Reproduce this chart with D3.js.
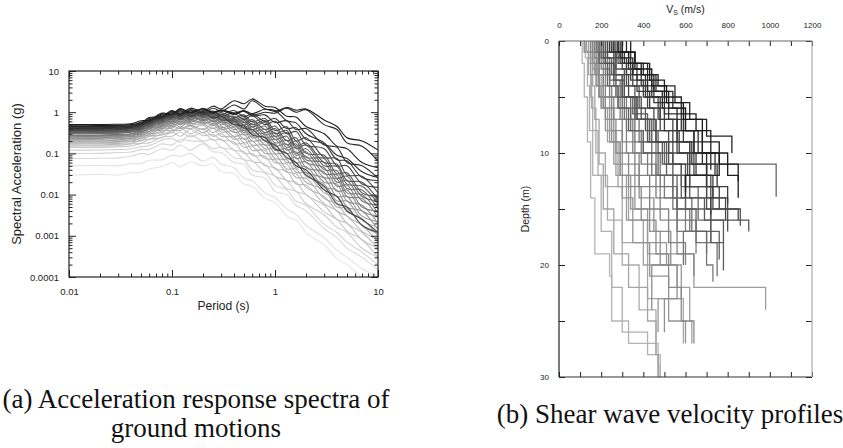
<!DOCTYPE html>
<html>
<head>
<meta charset="utf-8">
<script src="https://cdn.jsdelivr.net/npm/d3@7"></script>
<style>
    body { margin: 0; background: #fff; }
    svg text { font-family: "Liberation Sans", Arial, sans-serif; fill: #222; }
    svg text.caption { font-family: "Liberation Serif", "Times New Roman", serif; fill: #111; }
</style>
</head>
<body>
<div id="chart"></div>
<script>
// periods (s) at which every spectrum is read
const periods = [0.01, 0.02, 0.03, 0.04, 0.05, 0.06, 0.08, 0.1, 0.12, 0.15, 0.2, 0.25, 0.3, 0.4, 0.5, 0.6, 0.8, 1, 1.3, 1.6, 2, 3, 4, 5, 7, 10];

// spectral acceleration (g), light -> dark
const spectra = [
    [.030,.031,.030,.034,.035,.042,.048,.06,.047,.062,.05,.055,.036,.032,.018,.016,.008,.0065,.003,.0024,.0012,.0006,.00028,.0002,.0001,.00007],
    [.05,.051,.05,.056,.057,.068,.07,.09,.085,.1,.065,.08,.055,.045,.025,.022,.011,.0085,.0045,.0033,.0018,.0009,.00045,.0003,.00016,.0001],
    [.075,.076,.078,.085,.1,.095,.13,.12,.16,.12,.17,.11,.105,.06,.055,.03,.025,.012,.01,.0055,.004,.0015,.0009,.0005,.0003,.00015],
    [.1,.1,.105,.108,.125,.125,.17,.16,.22,.2,.19,.13,.14,.08,.07,.04,.033,.017,.013,.007,.0055,.0019,.0012,.0007,.0004,.0002],
    [.12,.121,.124,.13,.145,.155,.21,.23,.19,.28,.2,.22,.14,.12,.07,.065,.035,.028,.014,.012,.006,.0032,.0016,.0012,.0005,.0003],
    [.14,.14,.145,.15,.175,.18,.25,.26,.33,.25,.32,.21,.22,.12,.11,.065,.055,.028,.022,.012,.01,.0038,.0025,.0013,.0008,.0003],
    [.15,.152,.155,.17,.175,.22,.24,.33,.26,.38,.27,.29,.21,.19,.1,.1,.05,.045,.022,.02,.01,.0055,.0025,.002,.0008,.0005],
    [.16,.16,.168,.175,.21,.22,.3,.32,.42,.3,.4,.26,.3,.17,.17,.09,.085,.042,.038,.018,.017,.006,.004,.002,.0012,.0005],
    [.17,.172,.175,.195,.2,.26,.28,.36,.36,.46,.32,.42,.26,.25,.14,.15,.075,.07,.035,.032,.015,.009,.004,.003,.0013,.0008],
    [.18,.18,.188,.195,.23,.26,.35,.37,.42,.4,.48,.32,.4,.22,.23,.12,.12,.06,.055,.026,.025,.008,.006,.003,.0018,.0007],
    [.19,.192,.195,.215,.23,.3,.32,.46,.4,.48,.38,.5,.33,.35,.18,.2,.1,.095,.042,.042,.02,.013,.005,.0046,.0018,.0011],
    [.2,.2,.21,.215,.26,.28,.41,.41,.56,.48,.52,.4,.46,.26,.29,.16,.16,.075,.07,.035,.034,.011,.009,.004,.0026,.001],
    [.21,.212,.215,.235,.25,.34,.37,.55,.44,.62,.52,.58,.38,.42,.22,.26,.13,.13,.06,.06,.028,.018,.007,.007,.0024,.0016],
    [.22,.22,.23,.235,.29,.31,.46,.44,.6,.52,.6,.48,.56,.32,.36,.2,.21,.1,.1,.045,.048,.015,.013,.005,.004,.0014],
    [.23,.232,.236,.26,.27,.38,.4,.6,.52,.66,.55,.62,.42,.5,.28,.32,.16,.17,.075,.08,.035,.025,.009,.009,.003,.0022],
    [.24,.24,.25,.255,.32,.34,.5,.48,.68,.6,.7,.52,.6,.38,.42,.24,.26,.12,.13,.06,.062,.02,.018,.007,.0055,.002],
    [.25,.252,.256,.28,.3,.42,.44,.66,.5,.72,.62,.68,.5,.56,.32,.38,.2,.22,.1,.11,.045,.035,.012,.013,.004,.003],
    [.26,.26,.27,.275,.34,.38,.56,.52,.74,.56,.78,.6,.66,.44,.5,.3,.3,.15,.17,.075,.085,.026,.024,.009,.008,.0028],
    [.27,.272,.277,.3,.32,.45,.48,.72,.58,.8,.62,.76,.56,.6,.36,.44,.24,.26,.12,.14,.06,.045,.016,.017,.005,.004],
    [.28,.28,.29,.295,.37,.4,.6,.58,.8,.64,.84,.6,.74,.5,.58,.34,.38,.18,.21,.09,.11,.032,.03,.011,.01,.0035],
    [.3,.302,.307,.33,.35,.5,.52,.78,.68,.86,.66,.82,.62,.68,.42,.52,.28,.32,.14,.17,.07,.06,.02,.022,.007,.0055],
    [.31,.31,.32,.325,.4,.43,.64,.6,.86,.66,.92,.7,.78,.56,.64,.38,.46,.22,.26,.1,.13,.04,.038,.014,.013,.0045],
    [.32,.322,.328,.35,.37,.54,.55,.82,.64,.9,.74,.88,.66,.7,.5,.6,.32,.4,.16,.2,.08,.075,.025,.028,.009,.007],
    [.33,.33,.34,.345,.43,.45,.7,.66,.9,.72,.98,.74,.86,.6,.7,.44,.56,.26,.32,.13,.16,.05,.048,.018,.016,.006],
    [.34,.342,.348,.37,.39,.57,.58,.88,.68,.98,.78,.94,.72,.8,.56,.66,.38,.46,.2,.24,.1,.09,.032,.034,.011,.009],
    [.35,.35,.36,.365,.46,.48,.74,.7,.96,.76,1.05,.78,.9,.66,.78,.5,.62,.3,.36,.15,.18,.06,.055,.022,.02,.0075],
    [.36,.362,.37,.39,.41,.6,.62,.94,.72,1.02,.8,.96,.66,.62,.4,.38,.2,.16,.08,.06,.03,.016,.006,.005,.0018,.0012],
    [.37,.37,.38,.39,.49,.5,.78,.74,1.0,.82,1.1,.85,.98,.74,.86,.58,.7,.36,.44,.2,.24,.08,.075,.03,.028,.011],
    [.38,.382,.39,.41,.44,.62,.66,.98,.78,1.08,.86,1.02,.8,.95,.66,.82,.5,.6,.3,.34,.16,.13,.05,.05,.018,.015],
    [.39,.39,.4,.41,.52,.54,.82,.78,1.06,.8,1.0,.72,.8,.5,.46,.28,.24,.13,.1,.05,.04,.013,.009,.004,.0025,.0012],
    [.4,.402,.41,.43,.47,.66,.7,1.02,.82,1.12,.9,1.06,.88,1.1,.78,.9,.6,.7,.4,.42,.22,.17,.07,.066,.026,.022],
    [.42,.42,.43,.44,.55,.58,.86,.84,1.1,.9,1.2,.92,1.1,.9,1.05,.8,.86,.56,.62,.38,.4,.16,.14,.06,.05,.025],
    [.43,.432,.44,.46,.5,.7,.74,1.06,.86,1.16,.95,1.25,1.05,1.5,1.2,1.9,1.2,1.1,.62,.55,.3,.18,.09,.075,.036,.026],
    [.45,.45,.46,.47,.58,.6,.9,.88,1.16,.95,1.25,1.0,1.1,.88,1.05,.85,1.0,.95,1.25,1.0,1.15,.5,.38,.18,.15,.065],
    [.47,.472,.48,.5,.54,.74,.78,1.1,.9,1.25,1.05,1.4,1.2,1.9,1.6,2.1,1.4,1.3,.8,.76,.45,.3,.15,.13,.06,.045],
    [.5,.5,.51,.52,.62,.64,.95,.9,1.22,1.0,1.2,.98,1.15,.95,1.1,.92,1.18,1.05,1.3,1.12,1.2,.65,.45,.24,.2,.12]
];

// Vs profiles: layer bottom depths (m) and layer Vs (m/s), light -> dark
const profileDepths = [
    [2,5,9,14,19,21,25,27,29,30],
    [1.5,4,8,12,17,22,26,28,30],
    [2,5,8,12,16,20,24,28,30],
    [1,3,6,10,13,18,23,27],
    [2,4,7,11,15,19,22,25,28,30],
    [1.5,3,6,9,13,16,20,22,25,27],
    [1,2.5,5,8,12,16,19,22,24],
    [2,4,6,9,12,15,18,20,23,26],
    [1,3,5,8,11,14,18,21,25,27],
    [1.5,3,6,9,12,15,17,20,23,26],
    [2,4,6,8,11,14,17,20,24],
    [1,3,5,7,10,13,16,19,22,25,27],
    [1,3,5,7,10,13,16,19,21],
    [2,4,6,9,12,15,18,20],
    [1,2.5,5,7,10,12,14,17,19],
    [1.5,3,5,8,11,14,17,20,21.5],
    [1,3,5,7,9,12,15,17,20],
    [2,4,6,8,10,13,16,18,21],
    [1,2,4,6,9,12,14,17,19],
    [1.5,3.5,5,7,9,11,13,16,18],
    [1,3,5,7,9,11,13.9],
    [2,4,6,8,10,12,15,17,19.5],
    [1,3,5,7,9,12,15,18,20.5],
    [1.5,3,5,6.5,9,11,14,16,18],
    [1,2.5,4,6,8,10,12,14,16,17],
    [2,3.5,5,7,9,11,13,15,16.5],
    [1,2,4,6,8,10,12,14,17],
    [1.5,3,5,7,9,11,13,15,16],
    [1,2.5,4,6,8,10,12,14,16],
    [1,2,3.5,5,7,9,11,13,15],
    [1.5,3,4.5,6,8,10,12,14,15.5],
    [1,2,3,5,7,9,11,13,14.5],
    [1,2.5,4,5.5,7,9,11,13],
    [1,2,3.5,5,6.5,8,10,12],
    [1,2,3,4.5,6,8,10,12,14],
    [1.5,3,4.5,6,8,10,11.5],
    [1,2,3,4,5.5,7,8.5,10],
    [1,2,3,4.5,6,8,10,12,13.5],
    [1,2,3.5,5,6.5,8,10,12,14],
    [1,2.5,4,5.5,7,9,11,12.5]
];

const profileVs = [
    [110,120,135,150,170,240,250,330,470,480],
    [125,135,145,160,200,250,300,420,480],
    [140,150,160,185,230,300,380,460,470],
    [120,140,155,175,220,300,420,590],
    [150,160,170,190,210,260,330,420,460,470],
    [140,180,200,230,280,330,400,560,620,630],
    [130,160,190,240,270,320,420,640,980],
    [150,175,200,240,290,340,420,510,580,470],
    [120,150,190,220,260,300,350,430,520,600],
    [170,190,210,250,290,360,430,480,560,500],
    [160,180,210,260,300,380,450,530,440],
    [150,170,190,220,270,330,390,460,520,580,640],
    [160,190,220,260,320,380,480,560,640],
    [180,210,250,300,360,430,520,600],
    [170,200,240,290,350,420,500,600,650],
    [190,220,270,320,390,460,560,700,730],
    [200,230,270,310,380,460,540,620,590],
    [210,240,280,340,400,480,560,650,750],
    [180,220,260,300,360,440,540,630,700],
    [200,240,290,340,420,500,580,660,720],
    [220,260,310,370,460,620,1030],
    [190,230,280,330,400,470,560,650,760],
    [230,260,300,360,430,510,600,720,780],
    [210,250,300,350,420,490,580,690,780],
    [240,270,310,360,410,470,540,620,720,900],
    [220,260,310,370,440,520,600,700,860],
    [250,280,320,380,450,520,610,700,800],
    [230,270,330,390,460,540,620,730,850],
    [260,300,350,420,480,560,640,720,790],
    [250,290,340,400,470,540,620,700,760],
    [270,320,370,430,500,570,650,730,720],
    [240,300,350,410,480,560,630,700,800],
    [280,330,390,450,520,590,680,750],
    [260,310,370,440,500,580,660,740],
    [300,340,400,460,540,600,640,700,600],
    [290,350,420,490,560,640,720],
    [320,360,420,470,550,620,700,820],
    [280,330,390,450,520,600,680,760,600],
    [340,360,430,500,580,650,720,800,850],
    [300,360,440,510,590,680,760,850]
];

const saTicks = [10, 1, 0.1, 0.01, 0.001, 0.0001];
const periodTicks = [0.01, 0.1, 1, 10];
const vsTicks = [0, 100, 200, 300, 400, 500, 600, 700, 800, 900, 1000, 1100, 1200];
const depthTicks = [0, 5, 10, 15, 20, 25, 30];

const svg = d3.select("#chart")
    .append("svg")
    .attr("width", 843)
    .attr("height", 448);

svg.append("rect").attr("width", 843).attr("height", 448).attr("fill", "#fff");

function styleAxis(g, col) {
    g.select(".domain").remove();
    g.selectAll(".tick line").attr("stroke", col || "#222").attr("stroke-width", 1);
}

/* ---------- (a) response spectra ---------- */
const xA = d3.scaleLog().domain([0.01, 10]).range([69, 378]);
const yA = d3.scaleLog().domain([0.0001, 10]).range([277, 71]);

svg.append("clipPath").attr("id", "clipA")
    .append("rect")
    .attr("x", xA(0.01)).attr("y", yA(10))
    .attr("width", xA(10) - xA(0.01)).attr("height", yA(0.0001) - yA(10));

const greyA = d3.scaleLinear().domain([0, spectra.length - 1]).range(["#e6e6e6", "#1c1c1c"]);

const lineA = d3.line()
    .x(function(d, i) { return xA(periods[i]); })
    .y(function(d) { return yA(d); })
    .curve(d3.curveCatmullRom);

svg.append("g")
    .attr("clip-path", "url(#clipA)")
    .selectAll("path")
    .data(spectra)
    .enter().append("path")
    .attr("d", lineA)
    .attr("fill", "none")
    .attr("stroke", function(d, i) { return greyA(i); })
    .attr("stroke-width", 1.1);

const minorX = xA.ticks().filter(function(d) { return periodTicks.indexOf(d) < 0; });
const minorY = yA.ticks().filter(function(d) { return saTicks.indexOf(d) < 0; });

svg.append("g").attr("transform", "translate(0," + yA(0.0001) + ")")
    .call(d3.axisBottom(xA).tickValues(periodTicks).tickSize(-7).tickPadding(11).tickFormat(String))
    .call(styleAxis);
svg.append("g").attr("transform", "translate(0," + yA(0.0001) + ")")
    .call(d3.axisBottom(xA).tickValues(minorX).tickSize(-3.5).tickFormat(""))
    .call(styleAxis);
svg.append("g").attr("transform", "translate(0," + yA(10) + ")")
    .call(d3.axisTop(xA).tickValues(periodTicks).tickSize(-7).tickFormat(""))
    .call(styleAxis);
svg.append("g").attr("transform", "translate(0," + yA(10) + ")")
    .call(d3.axisTop(xA).tickValues(minorX).tickSize(-3.5).tickFormat(""))
    .call(styleAxis);
svg.append("g").attr("transform", "translate(" + xA(0.01) + ",0)")
    .call(d3.axisLeft(yA).tickValues(saTicks).tickSize(-7).tickPadding(10).tickFormat(String))
    .call(styleAxis);
svg.append("g").attr("transform", "translate(" + xA(0.01) + ",0)")
    .call(d3.axisLeft(yA).tickValues(minorY).tickSize(-3.5).tickFormat(""))
    .call(styleAxis);
svg.append("g").attr("transform", "translate(" + xA(10) + ",0)")
    .call(d3.axisRight(yA).tickValues(saTicks).tickSize(-7).tickFormat(""))
    .call(styleAxis);
svg.append("g").attr("transform", "translate(" + xA(10) + ",0)")
    .call(d3.axisRight(yA).tickValues(minorY).tickSize(-3.5).tickFormat(""))
    .call(styleAxis);

svg.append("rect")
    .attr("x", xA(0.01)).attr("y", yA(10))
    .attr("width", xA(10) - xA(0.01)).attr("height", yA(0.0001) - yA(10))
    .attr("fill", "none").attr("stroke", "#222").attr("stroke-width", 1.2);

svg.selectAll("g.tick text").attr("font-size", "9.5px").attr("fill", "#222");

svg.append("text")
    .attr("transform", "translate(16," + (yA(10) + yA(0.0001)) / 2 + ") rotate(-90)")
    .attr("text-anchor", "middle").attr("dy", "0.35em")
    .attr("font-size", "13px")
    .text("Spectral Acceleration (g)");

svg.append("text")
    .attr("x", (xA(0.01) + xA(10)) / 2).attr("y", 306)
    .attr("text-anchor", "middle").attr("dy", "0.35em")
    .attr("font-size", "12px")
    .text("Period (s)");

/* ---------- (b) Vs profiles ---------- */
const xB = d3.scaleLinear().domain([0, 1200]).range([559, 812]);
const yB = d3.scaleLinear().domain([0, 30]).range([41, 377]);

const greyB = d3.scaleLinear().domain([0, profileVs.length - 1]).range(["#b4b4b4", "#1a1a1a"]);

const stepLine = d3.line()
    .x(function(d) { return xB(d[0]); })
    .y(function(d) { return yB(d[1]); });

// each layer gives a vertical segment, the joins between layers the horizontal steps
const profilePoints = profileVs.map(function(vs, k) {
    const pts = [];
    let top = 0;
    vs.forEach(function(v, j) {
        pts.push([v, top]);
        pts.push([v, profileDepths[k][j]]);
        top = profileDepths[k][j];
    });
    return pts;
});

svg.append("g")
    .selectAll("path")
    .data(profilePoints)
    .enter().append("path")
    .attr("d", stepLine)
    .attr("fill", "none")
    .attr("stroke", function(d, i) { return greyB(i); })
    .attr("stroke-width", 1.3);

const axTop = svg.append("g").attr("transform", "translate(0," + yB(0) + ")")
    .call(d3.axisTop(xB).tickValues(vsTicks).tickSize(-5).tickPadding(13)
        .tickFormat(function(d) { return d % 200 === 0 ? d : ""; }))
    .call(styleAxis);
svg.append("g").attr("transform", "translate(0," + yB(30) + ")")
    .call(d3.axisBottom(xB).tickValues(vsTicks).tickSize(-5).tickFormat(""))
    .call(styleAxis);
const axLeft = svg.append("g").attr("transform", "translate(" + xB(0) + ",0)")
    .call(d3.axisLeft(yB).tickValues(depthTicks).tickSize(-6).tickPadding(10)
        .tickFormat(function(d) { return d % 10 === 0 ? d : ""; }))
    .call(styleAxis);
svg.append("g").attr("transform", "translate(" + xB(1200) + ",0)")
    .call(d3.axisRight(yB).tickValues(depthTicks).tickSize(-6).tickFormat(""))
    .call(styleAxis);

axTop.selectAll("text").attr("font-size", "8px");
axLeft.selectAll("text").attr("font-size", "8px");

// frame: left / bottom dark, top grey, right light grey
svg.append("line").attr("x1", xB(0)).attr("x2", xB(0)).attr("y1", yB(0)).attr("y2", yB(30))
    .attr("stroke", "#222").attr("stroke-width", 1.2);
svg.append("line").attr("x1", xB(0)).attr("x2", xB(1200)).attr("y1", yB(30)).attr("y2", yB(30))
    .attr("stroke", "#333").attr("stroke-width", 1.2);
svg.append("line").attr("x1", xB(0)).attr("x2", xB(1200)).attr("y1", yB(0)).attr("y2", yB(0))
    .attr("stroke", "#666").attr("stroke-width", 1.2);
svg.append("line").attr("x1", xB(1200)).attr("x2", xB(1200)).attr("y1", yB(0)).attr("y2", yB(30))
    .attr("stroke", "#aaa").attr("stroke-width", 1.2);

const vsTitle = svg.append("text")
    .attr("x", (xB(0) + xB(1200)) / 2).attr("y", 13)
    .attr("text-anchor", "middle")
    .attr("font-size", "10.5px");
vsTitle.append("tspan").text("V");
vsTitle.append("tspan").attr("font-size", "7px").attr("dy", "2").text("S");
vsTitle.append("tspan").attr("dy", "-2").text(" (m/s)");

svg.append("text")
    .attr("transform", "translate(525," + (yB(0) + yB(30)) / 2 + ") rotate(-90)")
    .attr("text-anchor", "middle").attr("dy", "0.35em")
    .attr("font-size", "10.5px")
    .text("Depth (m)");

/* ---------- captions ---------- */
svg.append("text").attr("class", "caption")
    .attr("x", 196).attr("y", 408)
    .attr("text-anchor", "middle").attr("font-size", "27px")
    .text("(a) Acceleration response spectra of");
svg.append("text").attr("class", "caption")
    .attr("x", 196).attr("y", 437)
    .attr("text-anchor", "middle").attr("font-size", "27px")
    .text("ground motions");
svg.append("text").attr("class", "caption")
    .attr("x", 670).attr("y", 423)
    .attr("text-anchor", "middle").attr("font-size", "27px")
    .text("(b) Shear wave velocity profiles");
</script>
</body>
</html>
